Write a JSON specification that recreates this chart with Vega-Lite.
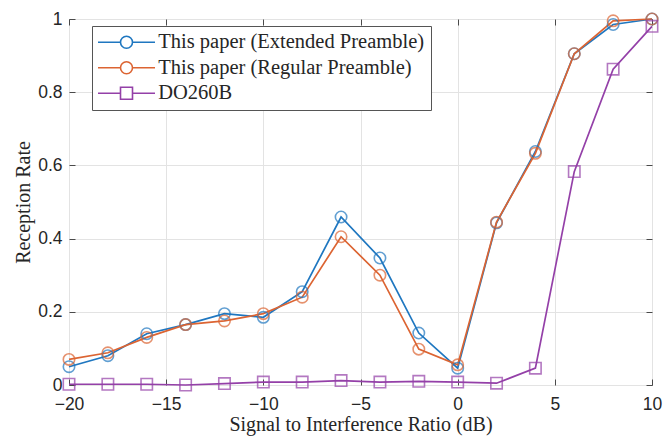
{
  "$schema": "https://vega.github.io/schema/vega-lite/v6.json",
  "width": 583,
  "height": 366,
  "autosize": "none",
  "padding": {"left": 69, "top": 19, "right": 13, "bottom": 52},
  "background": "white",
  "config": {
    "view": {"stroke": "#4a4a4a", "strokeWidth": 1},
    "axis": {"domain": false, "labelFlush": false, "gridColor": "#e3e3e3", "gridWidth": 1, "tickColor": "#4a4a4a", "tickSize": -6, "labelFont": "Liberation Sans", "labelFontSize": 17.5, "labelColor": "#262626", "titleFont": "Liberation Serif", "titleFontSize": 20, "titleFontWeight": "normal", "titleColor": "#262626"}
  },
  "data": {"values": [
    {"x": -20, "y": 0.05, "s": "This paper (Extended Preamble)"},
    {"x": -18, "y": 0.08, "s": "This paper (Extended Preamble)"},
    {"x": -16, "y": 0.14, "s": "This paper (Extended Preamble)"},
    {"x": -14, "y": 0.165, "s": "This paper (Extended Preamble)"},
    {"x": -12, "y": 0.195, "s": "This paper (Extended Preamble)"},
    {"x": -10, "y": 0.185, "s": "This paper (Extended Preamble)"},
    {"x": -8, "y": 0.255, "s": "This paper (Extended Preamble)"},
    {"x": -6, "y": 0.459, "s": "This paper (Extended Preamble)"},
    {"x": -4, "y": 0.347, "s": "This paper (Extended Preamble)"},
    {"x": -2, "y": 0.142, "s": "This paper (Extended Preamble)"},
    {"x": 0, "y": 0.046, "s": "This paper (Extended Preamble)"},
    {"x": 2, "y": 0.443, "s": "This paper (Extended Preamble)"},
    {"x": 4, "y": 0.638, "s": "This paper (Extended Preamble)"},
    {"x": 6, "y": 0.905, "s": "This paper (Extended Preamble)"},
    {"x": 8, "y": 0.985, "s": "This paper (Extended Preamble)"},
    {"x": 10, "y": 1.0, "s": "This paper (Extended Preamble)"},
    {"x": -20, "y": 0.07, "s": "This paper (Regular Preamble)"},
    {"x": -18, "y": 0.088, "s": "This paper (Regular Preamble)"},
    {"x": -16, "y": 0.13, "s": "This paper (Regular Preamble)"},
    {"x": -14, "y": 0.165, "s": "This paper (Regular Preamble)"},
    {"x": -12, "y": 0.175, "s": "This paper (Regular Preamble)"},
    {"x": -10, "y": 0.195, "s": "This paper (Regular Preamble)"},
    {"x": -8, "y": 0.24, "s": "This paper (Regular Preamble)"},
    {"x": -6, "y": 0.405, "s": "This paper (Regular Preamble)"},
    {"x": -4, "y": 0.30, "s": "This paper (Regular Preamble)"},
    {"x": -2, "y": 0.098, "s": "This paper (Regular Preamble)"},
    {"x": 0, "y": 0.055, "s": "This paper (Regular Preamble)"},
    {"x": 2, "y": 0.445, "s": "This paper (Regular Preamble)"},
    {"x": 4, "y": 0.633, "s": "This paper (Regular Preamble)"},
    {"x": 6, "y": 0.905, "s": "This paper (Regular Preamble)"},
    {"x": 8, "y": 0.995, "s": "This paper (Regular Preamble)"},
    {"x": 10, "y": 1.0, "s": "This paper (Regular Preamble)"},
    {"x": -20, "y": 0.002, "s": "DO260B"},
    {"x": -18, "y": 0.002, "s": "DO260B"},
    {"x": -16, "y": 0.002, "s": "DO260B"},
    {"x": -14, "y": 0.0, "s": "DO260B"},
    {"x": -12, "y": 0.004, "s": "DO260B"},
    {"x": -10, "y": 0.008, "s": "DO260B"},
    {"x": -8, "y": 0.008, "s": "DO260B"},
    {"x": -6, "y": 0.012, "s": "DO260B"},
    {"x": -4, "y": 0.008, "s": "DO260B"},
    {"x": -2, "y": 0.01, "s": "DO260B"},
    {"x": 0, "y": 0.008, "s": "DO260B"},
    {"x": 2, "y": 0.005, "s": "DO260B"},
    {"x": 4, "y": 0.046, "s": "DO260B"},
    {"x": 6, "y": 0.583, "s": "DO260B"},
    {"x": 8, "y": 0.863, "s": "DO260B"},
    {"x": 10, "y": 0.98, "s": "DO260B"}
  ]},
  "resolve": {"axis": {"x": "independent", "y": "independent"}},
  "layer": [
    {
      "mark": {"type": "line", "strokeWidth": 1.7},
      "encoding": {
        "x": {"field": "x", "type": "quantitative", "scale": {"domain": [-20, 10], "nice": false, "zero": false}, "axis": {"values": [-20, -15, -10, -5, 0, 5, 10], "title": "Signal to Interference Ratio (dB)", "labelPadding": 16, "titlePadding": 2}},
        "y": {"field": "y", "type": "quantitative", "scale": {"domain": [0, 1], "nice": false}, "axis": {"values": [0, 0.2, 0.4, 0.6, 0.8, 1], "format": ".1~f", "title": "Reception Rate", "labelPadding": 13, "titlePadding": 4}},
        "color": {"field": "s", "type": "nominal", "scale": {"domain": ["This paper (Extended Preamble)", "This paper (Regular Preamble)", "DO260B"], "range": ["#1f77c0", "#dc6432", "#9440a8"]}, "legend": {
          "title": null, "orient": "none", "legendX": 23, "legendY": 7,
          "strokeColor": "#555", "fillColor": "white", "padding": 6,
          "labelFont": "Liberation Serif", "labelFontSize": 20.5, "labelColor": "#262626", "labelLimit": 400,
          "symbolSize": 144, "symbolStrokeWidth": 1.6, "symbolFillColor": "transparent", "symbolOpacity": 1,
          "symbolOffset": 18.25, "labelOffset": 21.5, "rowPadding": 4.5
        }},
        "order": {"field": "x", "type": "quantitative"}
      }
    },
    {
      "mark": {"type": "point", "filled": false, "opacity": 0},
      "encoding": {
        "x": {"field": "x", "type": "quantitative", "axis": {"orient": "top", "values": [-20, -15, -10, -5, 0, 5, 10], "labels": false, "grid": false, "title": null}},
        "y": {"field": "y", "type": "quantitative", "axis": {"orient": "right", "values": [0, 0.2, 0.4, 0.6, 0.8, 1], "labels": false, "grid": false, "title": null}},
        "color": {"field": "s", "type": "nominal"},
        "shape": {"field": "s", "type": "nominal", "scale": {"domain": ["This paper (Extended Preamble)", "This paper (Regular Preamble)", "DO260B"], "range": ["M-4.75,0H-1M1,0H4.75M1,0A1,1,0,1,1,-1,0A1,1,0,1,1,1,0", "M-4.75,0H-1M1,0H4.75M1,0A1,1,0,1,1,-1,0A1,1,0,1,1,1,0", "M-4.75,0H-1M1,0H4.75M-1,-1H1V1H-1Z"]}, "legend": null}
      }
    },
    {
      "transform": [{"filter": "datum.s !== 'DO260B'"}],
      "mark": {"type": "point", "shape": "circle", "filled": false, "size": 130, "strokeWidth": 1.6},
      "encoding": {
        "x": {"field": "x", "type": "quantitative", "axis": null},
        "y": {"field": "y", "type": "quantitative", "axis": null},
        "color": {"field": "s", "type": "nominal"}
      }
    },
    {
      "transform": [{"filter": "datum.s === 'DO260B'"}],
      "mark": {"type": "point", "shape": "square", "filled": false, "size": 130, "strokeWidth": 1.6},
      "encoding": {
        "x": {"field": "x", "type": "quantitative", "axis": null},
        "y": {"field": "y", "type": "quantitative", "axis": null},
        "color": {"field": "s", "type": "nominal"}
      }
    }
  ]
}
